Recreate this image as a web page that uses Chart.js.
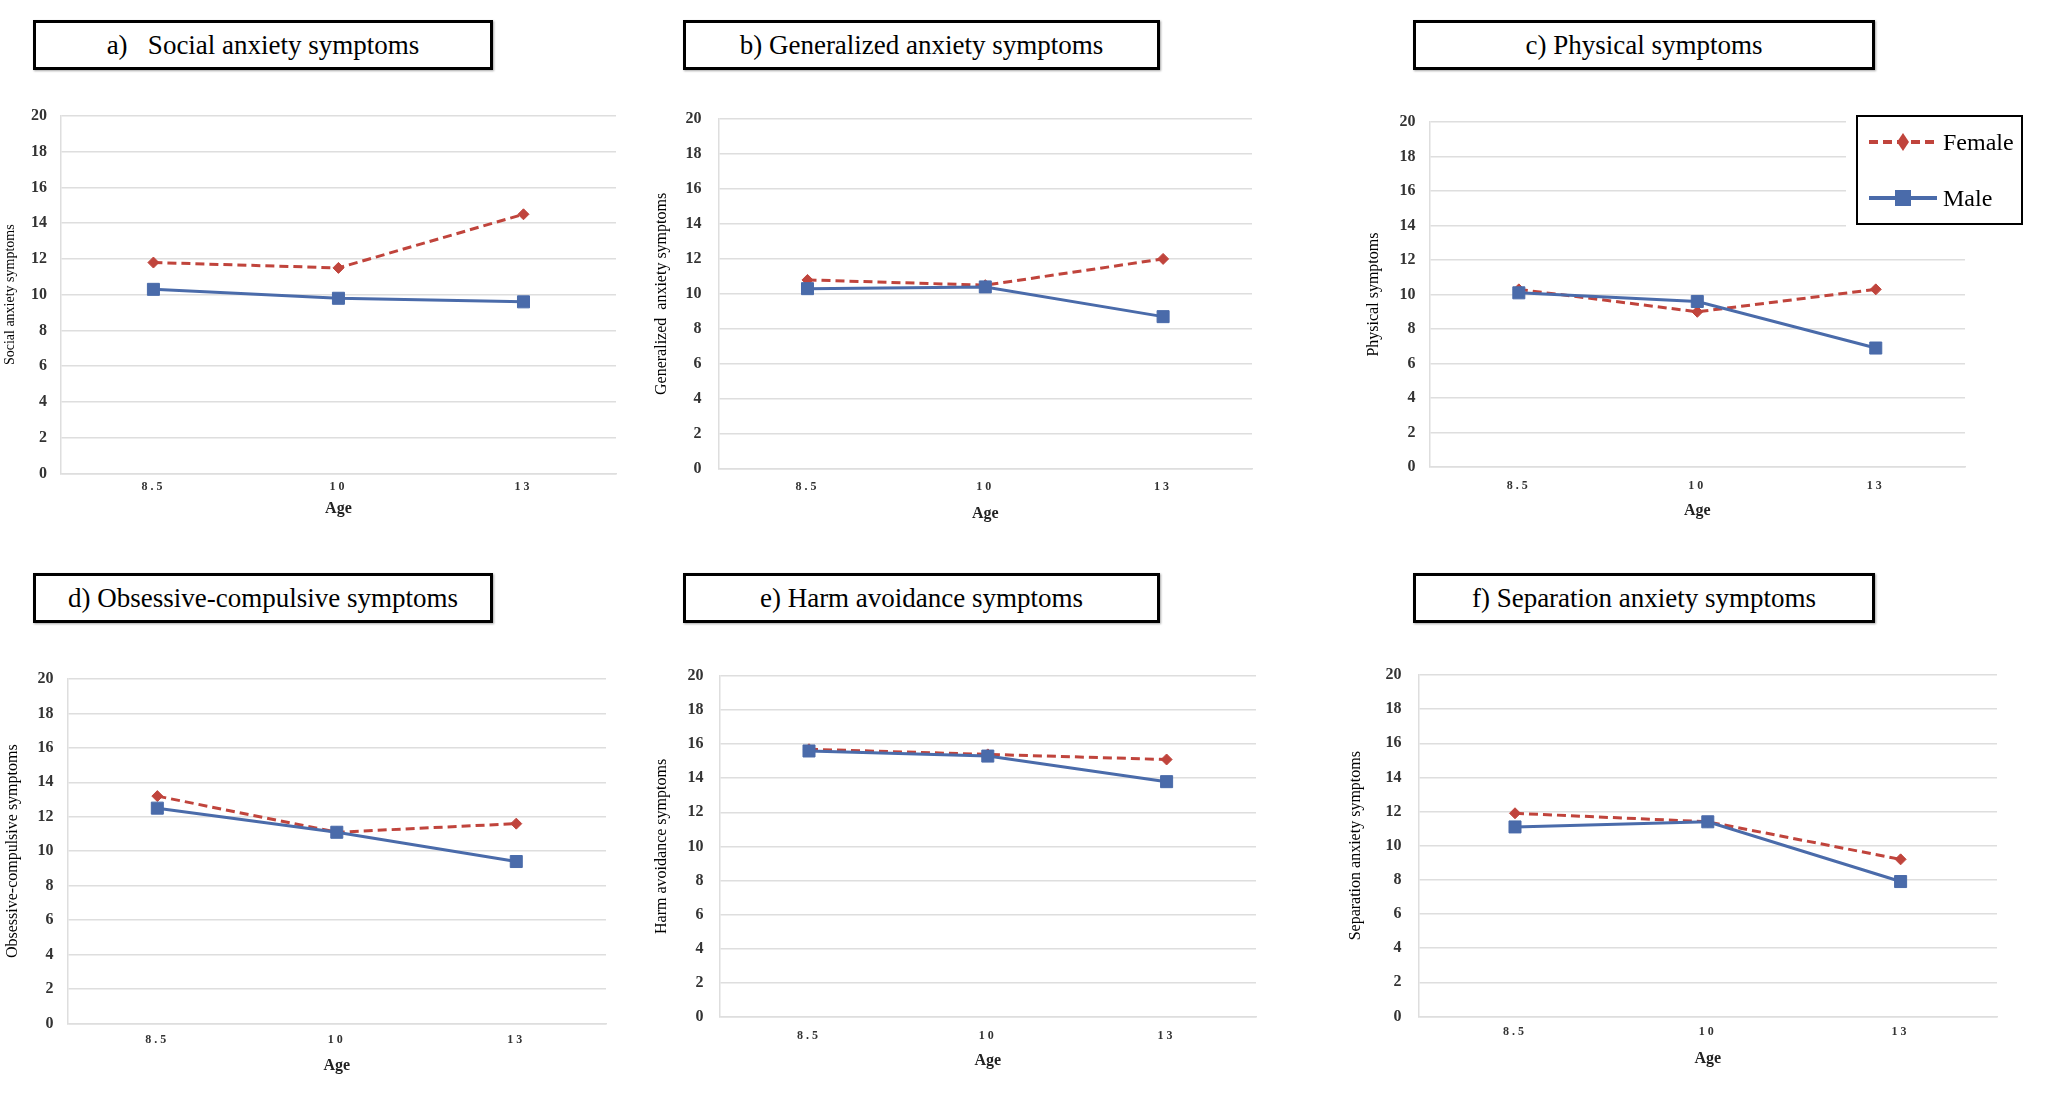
<!DOCTYPE html>
<html>
<head>
<meta charset="utf-8">
<script src="https://cdn.jsdelivr.net/npm/chart.js@4.4.0/dist/chart.umd.min.js"></script>
<style>
  body { margin: 0; width: 2056px; height: 1096px; background: #fff; position: relative; overflow: hidden; font-family: 'Liberation Serif', 'Times New Roman', serif; }
  .tbox { position: absolute; height: 50px; border: 3px solid #000; box-sizing: border-box; background: #fff;
          display: flex; align-items: center; justify-content: center; font-size: 27px; color: #000; white-space: pre;
          box-shadow: 1px 1px 2px rgba(0,0,0,0.35); }
  canvas { position: absolute; }
  #legend { position: absolute; left: 1856px; top: 115px; width: 167px; height: 110px; box-sizing: border-box;
            border: 2px solid #000; background: #fff; box-shadow: 0 0 0 10px #fff; z-index: 5; }
  #legend svg { position: absolute; left: 0; top: 0; }
  #legend span { position: absolute; left: 85px; font-size: 24px; line-height: 24px; color: #000; }
</style>
</head>
<body>
<div id="legend">
  <svg width="165" height="108">
    <line x1="11" y1="25" x2="79" y2="25" stroke="#C0443C" stroke-width="4" stroke-dasharray="9,5"/>
    <polygon points="45,16 51,25 45,34 39,25" fill="#C0443C"/>
    <line x1="11" y1="81" x2="79" y2="81" stroke="#4A6BAA" stroke-width="4"/>
    <rect x="37" y="73" width="16" height="16" fill="#4A6BAA"/>
  </svg>
  <span style="top:13px">Female</span>
  <span style="top:69px">Male</span>
</div>
<script>
// ages on the x axis
var ages = ['8.5', '10', '13'];
var yMin = 0, yMax = 20, yStep = 2;

var panelTitles = [
    'a)   Social anxiety symptoms',
    'b) Generalized anxiety symptoms',
    'c) Physical symptoms',
    'd) Obsessive-compulsive symptoms',
    'e) Harm avoidance symptoms',
    'f) Separation anxiety symptoms'
];
var yAxisTitles = [
    'Social anxiety symptoms',
    'Generalized  anxiety symptoms',
    'Physical symptoms',
    'Obsessive-compulsive symptoms',
    'Harm avoidance symptoms',
    'Separation anxiety symptoms'
];

// mean scores, female / male
var femaleSocial = [11.8, 11.5, 14.5];
var maleSocial = [10.3, 9.8, 9.6];
var femaleGeneralized = [10.8, 10.5, 12.0];
var maleGeneralized = [10.3, 10.4, 8.7];
var femalePhysical = [10.3, 9.0, 10.3];
var malePhysical = [10.1, 9.6, 6.9];
var femaleObsessive = [13.2, 11.1, 11.6];
var maleObsessive = [12.5, 11.1, 9.4];
var femaleHarm = [15.7, 15.4, 15.1];
var maleHarm = [15.6, 15.3, 13.8];
var femaleSeparation = [11.9, 11.4, 9.2];
var maleSeparation = [11.1, 11.4, 7.9];

var femaleSeries = [femaleSocial, femaleGeneralized, femalePhysical, femaleObsessive, femaleHarm, femaleSeparation];
var maleSeries = [maleSocial, maleGeneralized, malePhysical, maleObsessive, maleHarm, maleSeparation];

var RED = '#C0443C';
var BLUE = '#4A6BAA';
var GRID = '#dedede';
var SERIF = "'Liberation Serif', 'Times New Roman', serif";

// page layout of each panel (px)
var frames = [
    {l: 61,   t: 116, r: 616,  b: 473,  titleX: 10.5, titleSize: 14, tickGap: 14, labelGap: 13.7, ageGap: 35,   boxX: 33,   boxW: 460, boxY: 20},
    {l: 719,  t: 119, r: 1252, b: 469,  titleX: 662,  titleSize: 16, tickGap: 17, labelGap: 18.4, ageGap: 44.6, boxX: 683,  boxW: 477, boxY: 20},
    {l: 1430, t: 122, r: 1965, b: 467,  titleX: 1374, titleSize: 16, tickGap: 14, labelGap: 18.4, ageGap: 43.3, boxX: 1413, boxW: 462, boxY: 20},
    {l: 68,   t: 679, r: 606,  b: 1023, titleX: 13,   titleSize: 16, tickGap: 14, labelGap: 17,   ageGap: 42,   boxX: 33,   boxW: 460, boxY: 573},
    {l: 720,  t: 676, r: 1256, b: 1017, titleX: 662,  titleSize: 16, tickGap: 16, labelGap: 18.7, ageGap: 43.6, boxX: 683,  boxW: 477, boxY: 573},
    {l: 1419, t: 675, r: 1997, b: 1016, titleX: 1356, titleSize: 16, tickGap: 17, labelGap: 15.8, ageGap: 42,   boxX: 1413, boxW: 462, boxY: 573}
];

// category axis whose tick labels are letter-spaced
class SpacedCategoryScale extends Chart.CategoryScale {
    drawLabels(chartArea) {
        this.ctx.save();
        this.ctx.letterSpacing = '3px';
        super.drawLabels(chartArea);
        this.ctx.restore();
    }
}
SpacedCategoryScale.id = 'spacedCategory';
SpacedCategoryScale.defaults = Chart.CategoryScale.defaults;
Chart.register(SpacedCategoryScale);

var PAD_RIGHT = 10;
var Y_TICK_SIZE = 16;

frames.forEach(function(f, i) {
    var box = document.createElement('div');
    box.className = 'tbox';
    box.style.left = f.boxX + 'px';
    box.style.top = f.boxY + 'px';
    box.style.width = f.boxW + 'px';
    box.textContent = panelTitles[i];
    document.body.appendChild(box);

    // the y axis asks for half a label plus the tick padding above the plot
    var padTop = Math.ceil(Y_TICK_SIZE * 0.6 + f.tickGap) + 2;
    var lh = f.titleSize * 1.2;
    var left = f.titleX - lh / 2;
    var top = f.t - padTop;
    var w = Math.round(f.r + PAD_RIGHT - left);
    var xAxisH = f.ageGap + 9.6;
    var h = Math.round(padTop + (f.b - f.t) + xAxisH);
    var yAxisW = f.l - left;

    var cv = document.createElement('canvas');
    cv.width = w; cv.height = h;
    cv.style.width = w + 'px'; cv.style.height = h + 'px';
    cv.style.left = left + 'px'; cv.style.top = top + 'px';
    document.body.appendChild(cv);

    new Chart(cv, {
        type: 'line',
        data: {
            labels: ages,
            datasets: [{
                label: 'Female',
                data: femaleSeries[i],
                borderColor: RED,
                backgroundColor: RED,
                borderWidth: 3,
                borderDash: [9, 5],
                pointStyle: 'rectRot',
                pointRadius: 5.5,
                pointBorderWidth: 1,
                order: 1
            }, {
                label: 'Male',
                data: maleSeries[i],
                borderColor: BLUE,
                backgroundColor: BLUE,
                borderWidth: 3,
                pointStyle: 'rect',
                pointRadius: 8.5,
                pointBorderWidth: 1,
                order: 0
            }]
        },
        options: {
            responsive: false,
            animation: false,
            devicePixelRatio: 1,
            layout: {padding: {top: padTop, right: PAD_RIGHT, left: 0, bottom: 0}},
            plugins: {legend: {display: false}, tooltip: {enabled: false}},
            scales: {
                x: {
                    type: 'spacedCategory',
                    offset: true,
                    grid: {display: false, drawTicks: false},
                    border: {display: true, color: GRID, width: 1.5},
                    ticks: {padding: f.labelGap - 7.2, font: {family: SERIF, size: 12, weight: 'bold'}, color: '#333', maxRotation: 0, autoSkip: false},
                    title: {display: true, text: 'Age', font: {family: SERIF, size: 16, weight: 'bold'}, color: '#222', padding: 0},
                    afterFit: function(s) { s.height = xAxisH; }
                },
                y: {
                    min: yMin,
                    max: yMax,
                    ticks: {stepSize: yStep, padding: f.tickGap, font: {family: SERIF, size: Y_TICK_SIZE, weight: 'bold'}, color: '#333'},
                    grid: {color: GRID, lineWidth: 1.5, drawTicks: false},
                    border: {display: true, color: GRID, width: 1.5},
                    title: {display: true, text: yAxisTitles[i], font: {family: SERIF, size: f.titleSize}, color: '#000', padding: 0},
                    afterFit: function(s) { s.width = yAxisW; }
                }
            }
        }
    });
});
</script>
</body>
</html>
